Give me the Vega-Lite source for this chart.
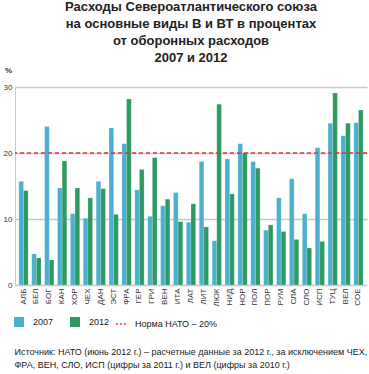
{
  "$schema": "https://vega.github.io/schema/vega-lite/v6.json",
  "autosize": "none",
  "width": 352,
  "height": 198,
  "padding": {"left": 15, "top": 87, "right": 2, "bottom": 89},
  "background": "white",
  "title": {
    "text": ["Расходы Североатлантического союза", "на основные виды В и ВТ в процентах", "от оборонных расходов", "2007 и 2012"],
    "font": "Liberation Sans",
    "fontSize": 13,
    "fontWeight": "bold",
    "lineHeight": 17,
    "color": "#222222",
    "anchor": "middle",
    "offset": 1
  },
  "config": {
    "view": {"stroke": null},
    "font": "Liberation Sans"
  },
  "datasets": {
    "bars": [
      {"country": "АЛБ", "year": "2007", "value": 15.7}, {"country": "АЛБ", "year": "2012", "value": 14.3},
      {"country": "БЕЛ", "year": "2007", "value": 4.7}, {"country": "БЕЛ", "year": "2012", "value": 4.1},
      {"country": "БОГ", "year": "2007", "value": 24.0}, {"country": "БОГ", "year": "2012", "value": 3.8},
      {"country": "КАН", "year": "2007", "value": 14.7}, {"country": "КАН", "year": "2012", "value": 18.8},
      {"country": "ХОР", "year": "2007", "value": 10.8}, {"country": "ХОР", "year": "2012", "value": 14.7},
      {"country": "ЧЕХ", "year": "2007", "value": 10.1}, {"country": "ЧЕХ", "year": "2012", "value": 13.2},
      {"country": "ДАН", "year": "2007", "value": 15.7}, {"country": "ДАН", "year": "2012", "value": 14.6},
      {"country": "ЭСТ", "year": "2007", "value": 23.8}, {"country": "ЭСТ", "year": "2012", "value": 10.7},
      {"country": "ФРА", "year": "2007", "value": 21.4}, {"country": "ФРА", "year": "2012", "value": 28.2},
      {"country": "ГЕР", "year": "2007", "value": 14.4}, {"country": "ГЕР", "year": "2012", "value": 17.5},
      {"country": "ГРИ", "year": "2007", "value": 10.4}, {"country": "ГРИ", "year": "2012", "value": 19.3},
      {"country": "ВЕН", "year": "2007", "value": 12.0}, {"country": "ВЕН", "year": "2012", "value": 13.0},
      {"country": "ИТА", "year": "2007", "value": 14.0}, {"country": "ИТА", "year": "2012", "value": 9.6},
      {"country": "ЛАТ", "year": "2007", "value": 9.5}, {"country": "ЛАТ", "year": "2012", "value": 12.3},
      {"country": "ЛИТ", "year": "2007", "value": 18.7}, {"country": "ЛИТ", "year": "2012", "value": 8.8},
      {"country": "ЛЮК", "year": "2007", "value": 6.7}, {"country": "ЛЮК", "year": "2012", "value": 27.4},
      {"country": "НИД", "year": "2007", "value": 19.1}, {"country": "НИД", "year": "2012", "value": 13.8},
      {"country": "НОР", "year": "2007", "value": 21.4}, {"country": "НОР", "year": "2012", "value": 20.0},
      {"country": "ПОЛ", "year": "2007", "value": 18.7}, {"country": "ПОЛ", "year": "2012", "value": 17.7},
      {"country": "ПОР", "year": "2007", "value": 8.3}, {"country": "ПОР", "year": "2012", "value": 9.1},
      {"country": "РУМ", "year": "2007", "value": 13.2}, {"country": "РУМ", "year": "2012", "value": 8.1},
      {"country": "СЛА", "year": "2007", "value": 16.1}, {"country": "СЛА", "year": "2012", "value": 6.9},
      {"country": "СЛО", "year": "2007", "value": 10.8}, {"country": "СЛО", "year": "2012", "value": 5.6},
      {"country": "ИСП", "year": "2007", "value": 20.8}, {"country": "ИСП", "year": "2012", "value": 6.6},
      {"country": "ТУЦ", "year": "2007", "value": 24.5}, {"country": "ТУЦ", "year": "2012", "value": 29.1},
      {"country": "ВЕЛ", "year": "2007", "value": 22.6}, {"country": "ВЕЛ", "year": "2012", "value": 24.5},
      {"country": "СОЕ", "year": "2007", "value": 24.6}, {"country": "СОЕ", "year": "2012", "value": 26.5}
    ],
    "norm": [{"label": "Норма НАТО – 20%", "value": 20}]
  },
  "layer": [
    {
      "data": {"name": "bars"},
      "mark": {"type": "bar", "stroke": "#ffffff", "strokeOpacity": 0.35, "strokeWidth": 0.5},
      "encoding": {
        "x": {
          "field": "country", "type": "nominal", "sort": null,
          "scale": {"paddingInner": 0.28, "paddingOuter": 0.3},
          "axis": {
            "title": ["Источник: НАТО (июнь 2012 г.) – расчетные данные за 2012 г., за исключением ЧЕХ,", "ФРА, ВЕН, СЛО, ИСП (цифры за 2011 г.) и ВЕЛ (цифры за 2010 г.)"],
            "titleFont": "Liberation Sans",
            "titleFontSize": 9,
            "titleFontWeight": "normal",
            "titleColor": "#222222",
            "titleAnchor": "start",
            "titleAlign": "left",
            "titleBaseline": "top",
            "titleLineHeight": 13,
            "titleX": -1,
            "titleY": 62,
            "labelAngle": -90,
            "labelFontSize": 8,
            "labelColor": "#333333",
            "labelPadding": 3,
            "ticks": false,
            "domain": false
          }
        },
        "xOffset": {"field": "year", "type": "nominal"},
        "y": {
          "field": "value", "type": "quantitative",
          "scale": {"domain": [0, 30]},
          "axis": {
            "title": "%",
            "titleAngle": 0,
            "titleX": -7,
            "titleY": -13,
            "titleFontSize": 8,
            "titleFontWeight": "bold",
            "titleColor": "#333333",
            "titleAlign": "center",
            "values": [0, 5, 10, 15, 20, 25, 30],
            "labelFontSize": 8,
            "labelColor": "#333333",
            "labelPadding": 3,
            "ticks": false,
            "domainColor": "#c8c8c8",
            "gridColor": "#c8c8c8",
            "gridWidth": 1.3
          }
        },
        "color": {
          "field": "year", "type": "nominal",
          "scale": {"domain": ["2007", "2012"], "range": ["#4bb0cf", "#2e9a62"]},
          "legend": {
            "title": null,
            "orient": "none",
            "direction": "horizontal",
            "legendX": -1,
            "legendY": 230,
            "padding": 0,
            "symbolType": "square",
            "symbolSize": 100,
            "symbolStrokeWidth": 0,
            "labelFontSize": 9,
            "labelColor": "#222222",
            "labelOffset": 9,
            "columnPadding": 16
          }
        }
      }
    },
    {
      "data": {"name": "norm"},
      "mark": {"type": "rule", "strokeDash": [4, 3], "strokeWidth": 1.4},
      "encoding": {
        "y": {"field": "value", "type": "quantitative"},
        "stroke": {
          "field": "label", "type": "nominal",
          "scale": {"range": ["#e8322e"]},
          "legend": {
            "title": null,
            "orient": "none",
            "legendX": 100,
            "legendY": 230,
            "padding": 0,
            "symbolType": "stroke",
            "symbolSize": 150,
            "symbolDash": [2, 2],
            "symbolStrokeWidth": 1.4,
            "labelFontSize": 9,
            "labelColor": "#222222",
            "labelOffset": 6
          }
        }
      }
    }
  ],
  "resolve": {"scale": {"color": "independent"}}
}
